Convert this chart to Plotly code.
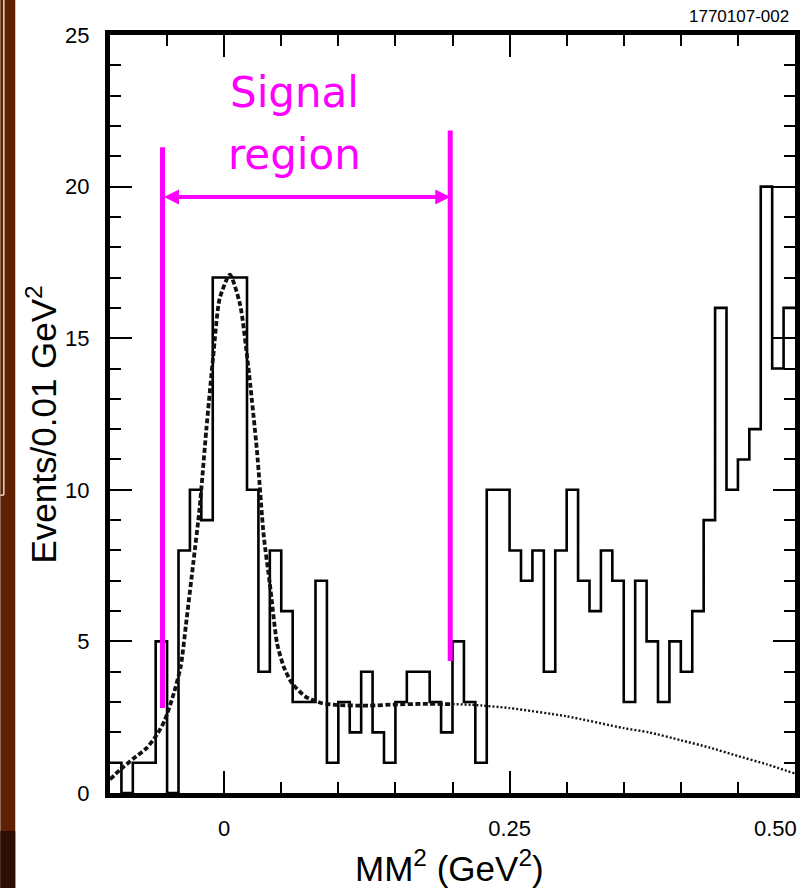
import numpy as np
import plotly.graph_objects as go

# ---------------- data ----------------
bin_lo = -0.10
bin_width = 0.01
counts = [1, 0, 1, 1, 5, 0, 8, 10, 9, 17,
          17, 17, 10, 4, 8, 6, 3, 3, 7, 1,
          3, 2, 4, 2, 1, 3, 4, 4, 3, 2,
          5, 3, 1, 10, 10, 8, 7, 8, 4, 8,
          10, 7, 6, 8, 7, 3, 7, 5, 3, 5,
          4, 6, 9, 16, 10, 11, 12, 20, 14, 16]

# fitted curve (signal + background), dashed part
fit_x = [-0.100, -0.091, -0.080, -0.068, -0.059, -0.052, -0.044, -0.038, -0.033,
         -0.027, -0.0215, -0.0156, -0.0096, -0.004, 0.005, 0.014, 0.021, 0.0287,
         0.0346, 0.040, 0.0463, 0.0521, 0.0594, 0.0711, 0.0857, 0.100, 0.127,
         0.150, 0.175, 0.200]
fit_y = [0.45, 0.77, 1.12, 1.48, 1.92, 2.40, 3.30, 4.18, 5.70,
         7.60, 9.4, 12.0, 14.4, 16.3, 17.1, 16.1, 14.1, 11.3,
         8.5, 6.9, 4.94, 4.17, 3.62, 3.18, 2.96, 2.90, 2.88,
         2.92, 2.94, 2.93]

# background continuation, dotted part
bkg_x = [0.200, 0.217, 0.250, 0.300, 0.350, 0.372, 0.400, 0.425, 0.450, 0.475, 0.500]
bkg_y = [2.93, 2.91, 2.80, 2.53, 2.14, 2.00, 1.74, 1.50, 1.22, 0.95, 0.64]

# signal region markers
signal_lo = -0.054
signal_hi = 0.198
left_bar = [2.8, 21.3]
right_bar = [4.35, 21.85]
arrow_y = 19.66

x_ticks = [0, 0.25, 0.5]
x_ticktext = ["0", "0.25", " "]
y_ticks = [0, 5, 10, 15, 20, 25]

# ---------------- figure ----------------
edges = np.round(bin_lo + bin_width * np.arange(len(counts) + 1), 4)
steps_y = counts + [counts[-1]]

MAG = "#FF00FF"
FONT = "Liberation Sans, Arial, Helvetica, sans-serif"

fig = go.Figure()
fig.add_trace(go.Scatter(x=edges, y=steps_y, mode="lines",
                         line=dict(color="black", width=2.6, shape="hv"),
                         hoverinfo="skip", showlegend=False))
fig.add_trace(go.Scatter(x=fit_x, y=fit_y, mode="lines",
                         line=dict(color="#111111", width=3.8, dash="5px,2.5px",
                                   shape="spline", smoothing=0.6),
                         hoverinfo="skip", showlegend=False))
fig.add_trace(go.Scatter(x=bkg_x, y=bkg_y, mode="lines",
                         line=dict(color="#151515", width=2.4, dash="2px,2px",
                                   shape="spline", smoothing=0.6),
                         hoverinfo="skip", showlegend=False))

shapes = [
    dict(type="line", xref="x", yref="y", x0=signal_lo, x1=signal_lo,
         y0=left_bar[0], y1=left_bar[1], line=dict(color=MAG, width=5)),
    dict(type="line", xref="x", yref="y", x0=signal_hi, x1=signal_hi,
         y0=right_bar[0], y1=right_bar[1], line=dict(color=MAG, width=5)),
    # slide background strip on the left
    dict(type="rect", xref="paper", yref="paper", x0=-0.1601, x1=-0.1383,
         y0=-0.126, y1=1.047, fillcolor="rgb(96,32,2)", line=dict(width=0), layer="below"),
    dict(type="rect", xref="paper", yref="paper", x0=-0.1601, x1=-0.1383,
         y0=-0.126, y1=-0.05, fillcolor="rgb(45,14,4)", line=dict(width=0), layer="below"),
    dict(type="line", xref="paper", yref="paper", x0=-0.1550, x1=-0.1550,
         y0=1.047, y1=0.393, line=dict(color="rgb(225,215,205)", width=1.5)),
    dict(type="line", xref="paper", yref="paper", x0=-0.1601, x1=-0.1550,
         y0=0.393, y1=0.393, line=dict(color="rgb(225,215,205)", width=1.5)),
]

annotations = [
    dict(x=signal_hi, y=arrow_y, ax=signal_lo, ay=arrow_y, xref="x", yref="y",
         axref="x", ayref="y", text="", showarrow=True, arrowhead=2, startarrowhead=2,
         arrowside="end+start", arrowsize=0.75, startarrowsize=0.75, arrowwidth=4,
         arrowcolor=MAG, standoff=0, startstandoff=0),
    dict(x=0.0613, y=0.924, xref="x", yref="paper", text="Signal", showarrow=False,
         xanchor="center", yanchor="middle",
         font=dict(family="DejaVu Sans, Verdana, sans-serif", size=42, color=MAG)),
    dict(x=0.0613, y=0.8417, xref="x", yref="paper", text="region", showarrow=False,
         xanchor="center", yanchor="middle",
         font=dict(family="DejaVu Sans, Verdana, sans-serif", size=42, color=MAG)),
    dict(x=1, y=1.025, xref="paper", yref="paper", text="1770107-002", showarrow=False,
         xanchor="right", yanchor="middle", xshift=-4,
         font=dict(family=FONT, size=17, color="black")),
    dict(x=0.5, y=0, xref="x", yref="paper", text="0.50", showarrow=False,
         xanchor="center", yanchor="top", xshift=-20, yshift=-21,
         font=dict(family=FONT, size=22, color="black")),
    dict(x=0.495, y=-0.0963, xref="paper", yref="paper",
         text="MM<sup>2</sup> (GeV<sup>2</sup>)", showarrow=False,
         xanchor="center", yanchor="middle",
         font=dict(family=FONT, size=35, color="black")),
    dict(x=-0.1000, y=0.4855, xref="paper", yref="paper",
         text="Events/0.01 GeV<sup>2</sup>", showarrow=False, textangle=-90,
         xanchor="center", yanchor="middle",
         font=dict(family=FONT, size=35, color="black")),
]

fig.update_layout(
    width=812, height=888,
    margin=dict(l=110, r=15, t=35, b=95),
    paper_bgcolor="white", plot_bgcolor="white",
    showlegend=False,
    font=dict(family=FONT, size=22, color="black"),
    shapes=shapes, annotations=annotations,
)
fig.update_xaxes(range=[-0.1, 0.5], tickvals=x_ticks, ticktext=x_ticktext,
                 ticks="inside", ticklen=22, tickwidth=1.5, tickcolor="black",
                 showline=True, linewidth=5, linecolor="black", mirror="ticks",
                 showgrid=False, zeroline=False, ticklabelstandoff=12,
                 tickfont=dict(family=FONT, size=22, color="black"),
                 minor=dict(dtick=0.05, tick0=0, ticks="inside", ticklen=11,
                            tickwidth=1.5, tickcolor="black", showgrid=False))
fig.update_yaxes(range=[0, 25], tickvals=y_ticks,
                 ticks="inside", ticklen=22, tickwidth=1.5, tickcolor="black",
                 showline=True, linewidth=5, linecolor="black", mirror="ticks",
                 showgrid=False, zeroline=False, ticklabelstandoff=11,
                 tickfont=dict(family=FONT, size=22, color="black"),
                 minor=dict(dtick=1, tick0=0, ticks="inside", ticklen=11,
                            tickwidth=1.5, tickcolor="black", showgrid=False))

fig.write_html("out.html", config={"displayModeBar": False},
               post_script="document.body.style.margin='0';document.body.style.padding='0';document.body.style.overflow='hidden';")
